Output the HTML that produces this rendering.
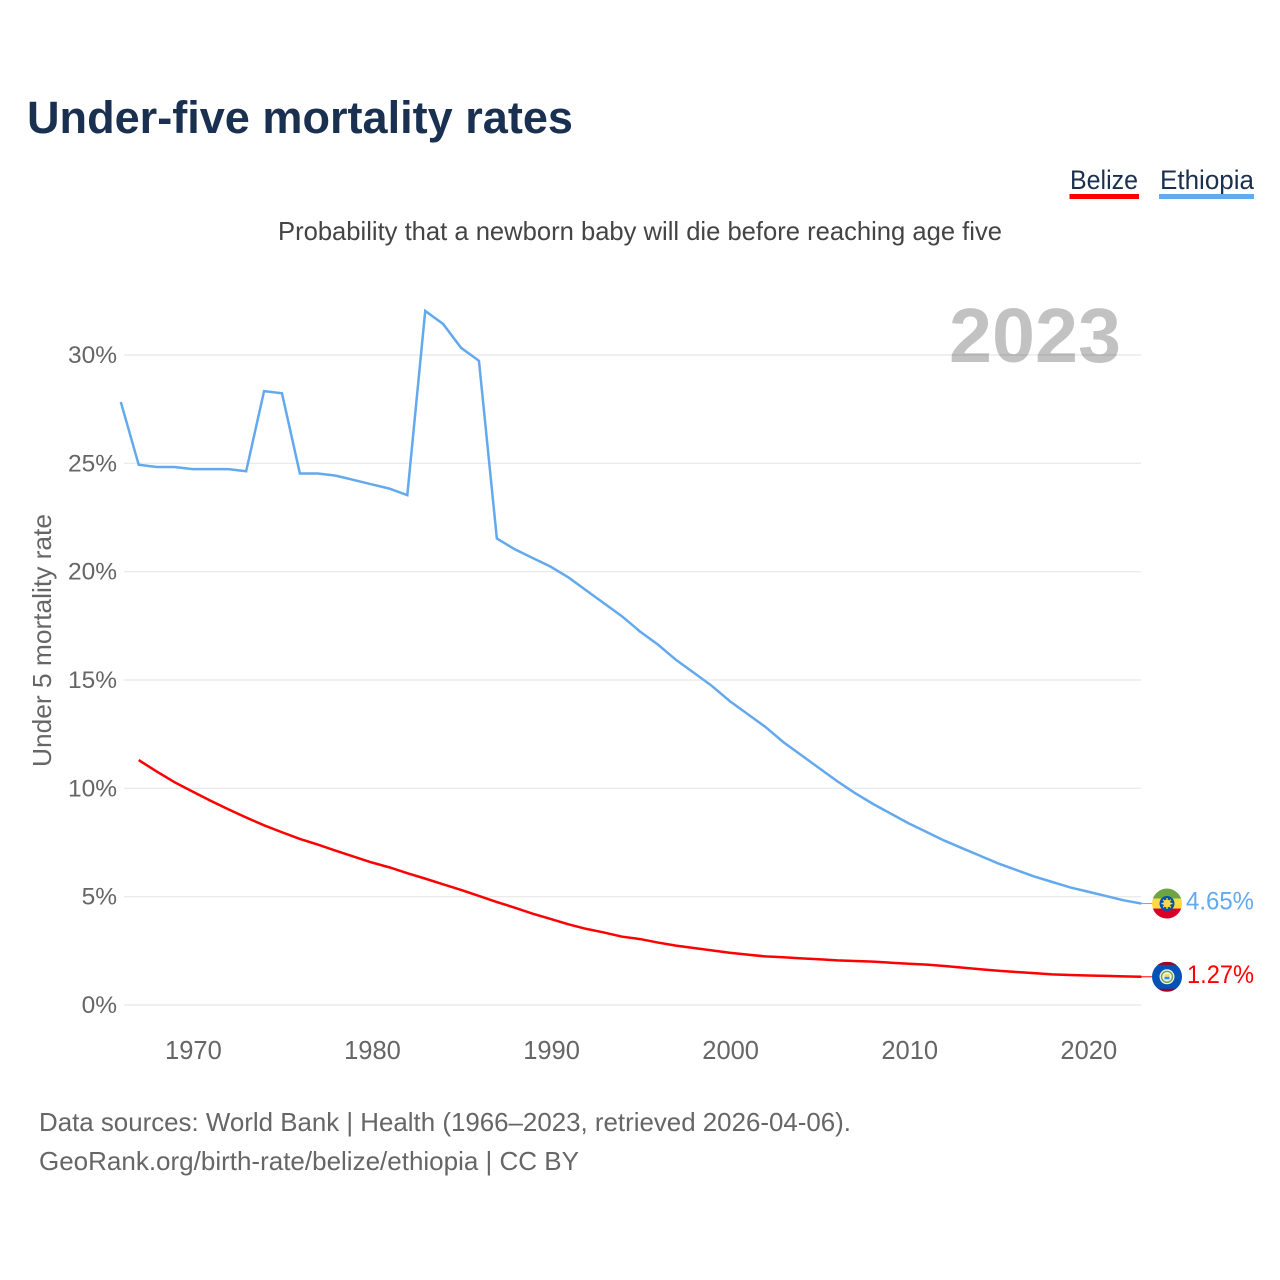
<!DOCTYPE html>
<html lang="en">
<head>
<meta charset="utf-8">
<title>Under-five mortality rates</title>
<style>
html,body{margin:0;padding:0;background:#fff;width:1280px;height:1280px;overflow:hidden}
svg{display:block}
text{font-family:"Liberation Sans",sans-serif}
</style>
</head>
<body>
<svg id="chart" xmlns="http://www.w3.org/2000/svg" width="1280" height="1280" viewBox="0 0 1280 1280">
  <defs>
    <clipPath id="flag-clip"><circle cx="0" cy="0" r="15"></circle></clipPath>
  </defs>
  <rect x="0" y="0" width="1280" height="1280" fill="#ffffff"></rect>
  <text x="27" y="133" font-size="45" font-weight="700" fill="#1a3050" textLength="546" lengthAdjust="spacingAndGlyphs">Under-five mortality rates</text>
  <text x="278" y="240" font-size="26" fill="#444444" textLength="724" lengthAdjust="spacingAndGlyphs">Probability that a newborn baby will die before reaching age five</text>
  <g>
    <g>
      <text x="1070" y="189" font-size="27" fill="#1a3050" textLength="68" lengthAdjust="spacingAndGlyphs">Belize</text>
      <rect x="1069.500" y="194" width="69.500" height="5" fill="#ff0000"></rect>
    </g>
    <g>
      <text x="1160" y="189" font-size="27" fill="#1a3050" textLength="94" lengthAdjust="spacingAndGlyphs">Ethiopia</text>
      <rect x="1159" y="194" width="95" height="5" fill="#63a9ee"></rect>
    </g>
  </g>
  <text transform="translate(51,767) rotate(-90)" font-size="26" fill="#666666" textLength="253" lengthAdjust="spacingAndGlyphs">Under 5 mortality rate</text>
  <g id="grid"></g>
  <g id="y-ticks"></g>
  <g id="x-ticks"></g>
  <text x="949" y="362" font-size="77" font-weight="700" fill="#000000" fill-opacity="0.24" textLength="172" lengthAdjust="spacingAndGlyphs">2023</text>
  <g id="series"></g>
  <g id="flag-ethiopia">
    <g clip-path="url(#flag-clip)">
      <rect x="-15" y="-15" width="30" height="10" fill="#6da544"></rect>
      <rect x="-15" y="-5" width="30" height="10" fill="#ffda44"></rect>
      <rect x="-15" y="5" width="30" height="10" fill="#d80027"></rect>
      <circle cx="0" cy="0" r="7.500" fill="#0052b4"></circle>
      <circle cx="0" cy="0" r="3.800" fill="#ffda44"></circle>
      <path d="M0-5.500V5.500M-5.500 0H5.500M-3.900-3.900L3.900 3.900M-3.900 3.900L3.900-3.900" stroke="#ffda44" stroke-width="1.300"></path>
    </g>
  </g>
  <g id="flag-belize">
    <g clip-path="url(#flag-clip)">
      <rect x="-15" y="-15" width="30" height="30" fill="#0052b4"></rect>
      <rect x="-15" y="-15" width="30" height="3" fill="#a2001d"></rect>
      <rect x="-15" y="12" width="30" height="3" fill="#a2001d"></rect>
      <circle cx="0" cy="0" r="7.500" fill="#f0f0f0"></circle>
      <circle cx="0" cy="0" r="5.500" fill="none" stroke="#6da544" stroke-width="1.400"></circle>
      <rect x="-2.500" y="-2.500" width="5" height="2.500" fill="#ffda44"></rect>
      <rect x="-2.500" y="0" width="5" height="2.500" fill="#338af3"></rect>
    </g>
  </g>
  <g id="end-labels"></g>
  <text x="39" y="1131" font-size="26" fill="#666666" textLength="812" lengthAdjust="spacingAndGlyphs">Data sources: World Bank | Health (1966–2023, retrieved 2026-04-06).</text>
  <text x="39" y="1170" font-size="26" fill="#666666" textLength="540" lengthAdjust="spacingAndGlyphs">GeoRank.org/birth-rate/belize/ethiopia | CC BY</text>
</svg>
<script>
const years = [1966,1967,1968,1969,1970,1971,1972,1973,1974,1975,1976,1977,1978,1979,1980,1981,1982,1983,1984,1985,1986,1987,1988,1989,1990,1991,1992,1993,1994,1995,1996,1997,1998,1999,2000,2001,2002,2003,2004,2005,2006,2007,2008,2009,2010,2011,2012,2013,2014,2015,2016,2017,2018,2019,2020,2021,2022,2023];
const ethiopiaValues = [27.8,24.9,24.8,24.8,24.7,24.7,24.7,24.6,28.3,28.2,24.5,24.5,24.4,24.2,24.0,23.8,23.5,32.0,31.4,30.3,29.7,21.5,21.0,20.6,20.2,19.7,19.1,18.5,17.9,17.2,16.6,15.9,15.3,14.7,14.0,13.4,12.8,12.1,11.5,10.9,10.3,9.75,9.25,8.8,8.35,7.95,7.55,7.2,6.85,6.5,6.2,5.9,5.65,5.4,5.2,5.0,4.8,4.65];
const belizeValues = [null,11.27,10.75,10.25,9.82,9.4,9.0,8.62,8.26,7.94,7.63,7.37,7.09,6.82,6.55,6.32,6.05,5.8,5.54,5.28,5.0,4.72,4.46,4.18,3.94,3.69,3.48,3.31,3.12,3.01,2.85,2.71,2.6,2.49,2.38,2.29,2.21,2.17,2.12,2.08,2.03,2.0,1.97,1.92,1.87,1.83,1.77,1.69,1.62,1.55,1.49,1.44,1.38,1.35,1.33,1.31,1.29,1.27];
const yTickValues = [0,5,10,15,20,25,30];
const xTickValues = [1970,1980,1990,2000,2010,2020];

const NS = 'http://www.w3.org/2000/svg';
const plotLeft = 120.8, plotRight = 1141.5, y0 = 1004.3, yPerUnit = 21.667, gridOffset = 0.7;
const yearMin = years[0], yearMax = years[years.length - 1];
function xScale(year) { return plotLeft + (year - yearMin) * (plotRight - plotLeft) / (yearMax - yearMin); }
function yScale(value) { return y0 - value * yPerUnit; }
function svgEl(tag, attrs, parent) {
  const el = document.createElementNS(NS, tag);
  for (const k in attrs) el.setAttribute(k, attrs[k]);
  parent.appendChild(el);
  return el;
}
const gridG = document.getElementById('grid');
const yG = document.getElementById('y-ticks');
const xG = document.getElementById('x-ticks');
const seriesG = document.getElementById('series');
const labelG = document.getElementById('end-labels');

yTickValues.forEach(function (v) {
  const gy = yScale(v) + gridOffset;
  const line = svgEl('line', {x1: 124, x2: 1141, y1: gy, y2: gy, stroke: '#ebebeb', 'stroke-width': 1.4}, gridG);
  
  
  const t = svgEl('text', {x: 117, y: gy + 8, 'text-anchor': 'end', 'font-size': 24.5, fill: '#666666'}, yG);
  
  
  t.textContent = v + '%';
});
xTickValues.forEach(function (yr) {
  const t = svgEl('text', {x: xScale(yr) + 1, y: 1059, 'text-anchor': 'middle', 'font-size': 25.5, fill: '#666666'}, xG);
  
  
  t.textContent = yr;
});
function pathFor(values) {
  let d = '';
  values.forEach(function (v, i) {
    if (v === null) return;
    d += (d ? 'L' : 'M') + xScale(years[i]).toFixed(2) + ' ' + yScale(v).toFixed(2);
  });
  return d;
}
const ethiopiaLine = svgEl('path', {d: pathFor(ethiopiaValues), fill: 'none', stroke: '#63a9ee', 'stroke-width': 2.5, 'stroke-linejoin': 'miter'}, seriesG);


const belizeLine = svgEl('path', {d: pathFor(belizeValues), fill: 'none', stroke: '#ff0000', 'stroke-width': 2.5, 'stroke-linejoin': 'miter'}, seriesG);



const ethiopiaLast = ethiopiaValues[ethiopiaValues.length - 1];
const belizeLast = belizeValues[belizeValues.length - 1];
const ethiopiaY = yScale(ethiopiaLast);
const belizeY = yScale(belizeLast);
const ethiopiaLeader = svgEl('line', {x1: plotRight, x2: 1152, y1: ethiopiaY, y2: ethiopiaY, stroke: '#63a9ee', 'stroke-width': 1}, seriesG);


const belizeLeader = svgEl('line', {x1: plotRight, x2: 1152, y1: belizeY, y2: belizeY, stroke: '#ff0000', 'stroke-width': 1}, seriesG);


document.getElementById('flag-ethiopia').setAttribute('transform', 'translate(1167,' + ethiopiaY + ')');
document.getElementById('flag-belize').setAttribute('transform', 'translate(1167,' + belizeY + ')');

const ethiopiaLabel = svgEl('text', {x: 1254, y: ethiopiaY + 6, 'text-anchor': 'end', 'font-size': 25, fill: '#63a9ee', textLength: 68, lengthAdjust: 'spacingAndGlyphs'}, labelG);


ethiopiaLabel.textContent = ethiopiaLast.toFixed(2) + '%';
const belizeLabel = svgEl('text', {x: 1254, y: belizeY + 6, 'text-anchor': 'end', 'font-size': 25, fill: '#ff0000', textLength: 67, lengthAdjust: 'spacingAndGlyphs'}, labelG);


belizeLabel.textContent = belizeLast.toFixed(2) + '%';
</script>
</body>
</html>
